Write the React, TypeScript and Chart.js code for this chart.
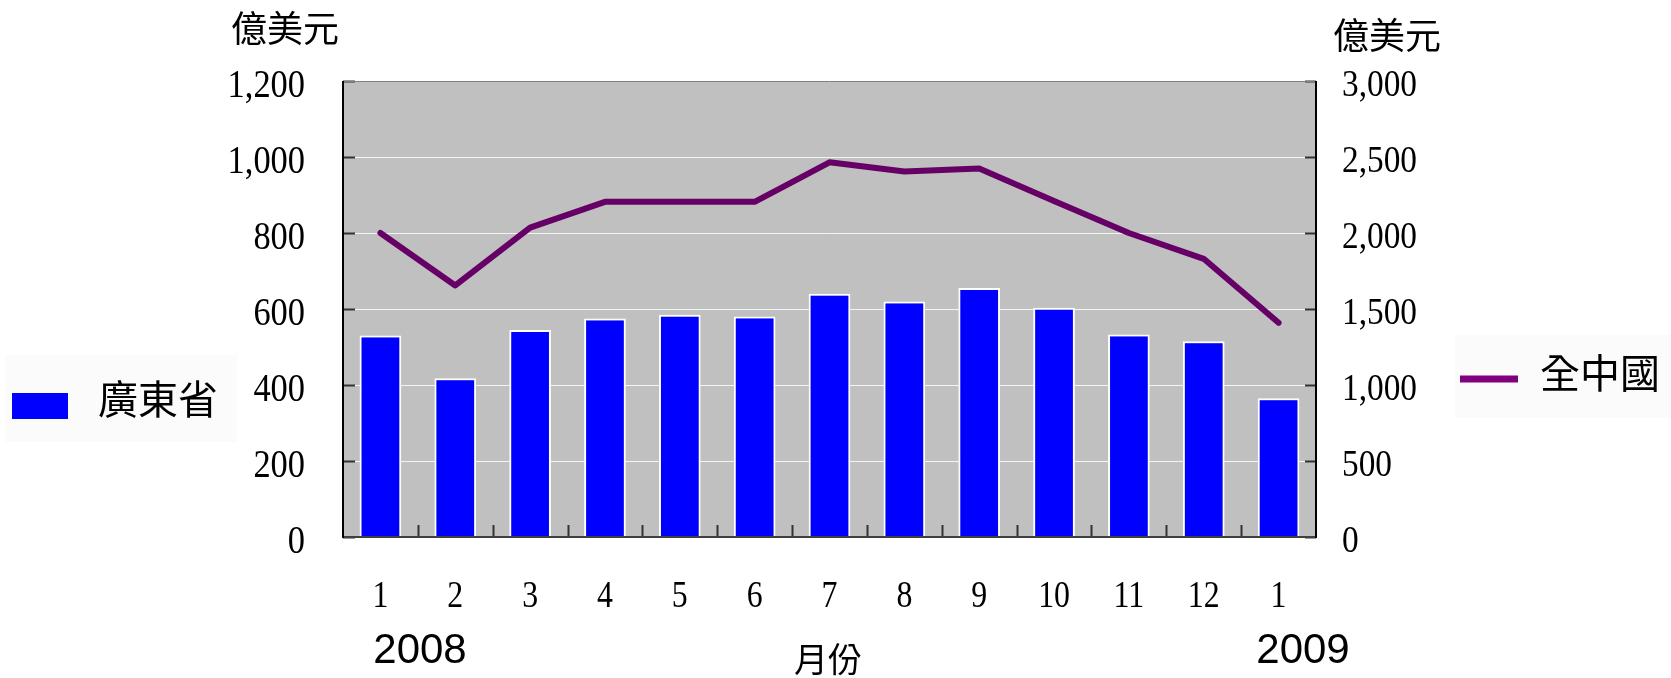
import React, { useEffect, useRef } from "react";
import { Chart, registerables } from "chart.js";

Chart.register(...registerables);

// Monthly export figures, Jan 2008 – Jan 2009 (億美元)
const monthLabels = ["1", "2", "3", "4", "5", "6", "7", "8", "9", "10", "11", "12", "1"];
const guangdongValues = [530, 418, 545, 575, 585, 580, 640, 620, 655, 603, 533, 515, 365];
const chinaValues = [2000, 1655, 2035, 2205, 2205, 2205, 2465, 2405, 2425, 2210, 2000, 1830, 1410];

const leftAxisTicks = [0, 200, 400, 600, 800, 1000, 1200];
const rightAxisTicks = [0, 500, 1000, 1500, 2000, 2500, 3000];
const yearLabels = ["2008", "2009"];

const SERIF = "'Liberation Serif', 'Times New Roman', serif";
const SANS = "'Liberation Sans', Arial, sans-serif";
const CJK = "'Noto Sans CJK TC', 'Noto Sans CJK SC', sans-serif";

function fmt(v: number): string {
  return v.toLocaleString("en-US");
}

// Draws text squeezed horizontally, like a condensed serif face
function squeezed(
  ctx: CanvasRenderingContext2D,
  text: string,
  x: number,
  y: number,
  font: string,
  align: CanvasTextAlign,
  sx: number
) {
  ctx.save();
  ctx.translate(x, y);
  ctx.scale(sx, 1);
  ctx.font = font;
  ctx.fillStyle = "#000000";
  ctx.textAlign = align;
  ctx.textBaseline = "alphabetic";
  ctx.fillText(text, 0, 0);
  ctx.restore();
}

function plainText(
  ctx: CanvasRenderingContext2D,
  text: string,
  x: number,
  y: number,
  font: string,
  align: CanvasTextAlign,
  baseline: CanvasTextBaseline
) {
  ctx.save();
  ctx.font = font;
  ctx.fillStyle = "#000000";
  ctx.textAlign = align;
  ctx.textBaseline = baseline;
  ctx.fillText(text, x, y);
  ctx.restore();
}

const framePlugin = {
  id: "frame",
  beforeDraw(chart: any) {
    const { ctx, chartArea } = chart;
    const { left, top, right, bottom } = chartArea;
    ctx.save();
    // faint legend panels
    ctx.fillStyle = "#fbfbfb";
    ctx.fillRect(5, 355, 232, 87);
    ctx.fillRect(1455, 335, 216, 83);
    // plot background
    ctx.fillStyle = "#c0c0c0";
    ctx.fillRect(left, top, right - left, bottom - top);
    ctx.restore();
  },
  afterDatasetsDraw(chart: any) {
    const { ctx, chartArea, scales } = chart;
    const { left, top, right, bottom } = chartArea;
    const x = scales.x;
    const y = scales.y;
    const y2 = scales.y2;
    ctx.save();
    // inner tick marks
    ctx.strokeStyle = "#333333";
    ctx.lineWidth = 2;
    ctx.beginPath();
    leftAxisTicks.forEach((v) => {
      const py = Math.round(y.getPixelForValue(v)) + 0.5;
      ctx.moveTo(left, py);
      ctx.lineTo(left + 12, py);
    });
    rightAxisTicks.forEach((v) => {
      const py = Math.round(y2.getPixelForValue(v)) + 0.5;
      ctx.moveTo(right - 11, py);
      ctx.lineTo(right, py);
    });
    for (let i = 1; i < monthLabels.length; i++) {
      const px = Math.round((x.getPixelForValue(i - 1) + x.getPixelForValue(i)) / 2) + 0.5;
      ctx.moveTo(px, bottom);
      ctx.lineTo(px, bottom - 12);
    }
    ctx.stroke();
    // frame
    ctx.strokeStyle = "#808080";
    ctx.lineWidth = 1;
    ctx.beginPath();
    ctx.moveTo(left, top + 0.5);
    ctx.lineTo(right, top + 0.5);
    ctx.stroke();
    ctx.strokeStyle = "#404040";
    ctx.lineWidth = 2;
    ctx.beginPath();
    ctx.moveTo(left, bottom);
    ctx.lineTo(right, bottom);
    ctx.stroke();
    ctx.strokeStyle = "#000000";
    ctx.beginPath();
    ctx.moveTo(left, top);
    ctx.lineTo(left, bottom + 1);
    ctx.moveTo(right, top);
    ctx.lineTo(right, bottom + 1);
    ctx.stroke();
    ctx.restore();
  },
  afterDraw(chart: any) {
    const { ctx, scales } = chart;
    const x = scales.x;
    const y = scales.y;
    const y2 = scales.y2;

    // axis tick labels
    leftAxisTicks.forEach((v) => {
      squeezed(ctx, fmt(v), 305, y.getPixelForValue(v) + 16, `40px ${SERIF}`, "right", 0.86);
    });
    rightAxisTicks.forEach((v) => {
      squeezed(ctx, fmt(v), 1342, y2.getPixelForValue(v) + 15, `37px ${SERIF}`, "left", 0.9);
    });
    monthLabels.forEach((m, i) => {
      squeezed(ctx, m, x.getPixelForValue(i), 607, `37px ${SERIF}`, "center", 0.86);
    });

    // years under the first and last month
    plainText(ctx, yearLabels[0], 420, 663, `42px ${SANS}`, "center", "alphabetic");
    plainText(ctx, yearLabels[1], 1303, 663, `42px ${SANS}`, "center", "alphabetic");

    // axis titles
    plainText(ctx, "月份", 828, 659, `34px ${CJK}`, "center", "middle");
    plainText(ctx, "億美元", 231, 28, `36px ${CJK}`, "left", "middle");
    plainText(ctx, "億美元", 1333, 35, `36px ${CJK}`, "left", "middle");

    // legends
    ctx.save();
    ctx.fillStyle = "#0000ff";
    ctx.fillRect(12, 393, 56, 26);
    ctx.strokeStyle = "#800080";
    ctx.lineWidth = 7;
    ctx.beginPath();
    ctx.moveTo(1460, 379);
    ctx.lineTo(1518, 379);
    ctx.stroke();
    ctx.restore();
    plainText(ctx, "廣東省", 98, 399, `40px ${CJK}`, "left", "middle");
    plainText(ctx, "全中國", 1540, 373, `40px ${CJK}`, "left", "middle");
  },
};

export default function App() {
  const canvasRef = useRef<HTMLCanvasElement | null>(null);

  useEffect(() => {
    const canvas = canvasRef.current;
    if (!canvas) return;
    const chart = new Chart(canvas, {
      type: "bar",
      data: {
        labels: monthLabels,
        datasets: [
          {
            type: "line",
            label: "全中國",
            data: chinaValues,
            yAxisID: "y2",
            borderColor: "#660066",
            backgroundColor: "#660066",
            borderWidth: 6,
            borderCapStyle: "round",
            borderJoinStyle: "round",
            pointRadius: 0,
            tension: 0,
            order: 0,
          } as any,
          {
            type: "bar",
            label: "廣東省",
            data: guangdongValues,
            yAxisID: "y",
            backgroundColor: "#0000ff",
            borderColor: "#ffffff",
            borderWidth: 2,
            borderSkipped: "bottom",
            barPercentage: 0.557,
            categoryPercentage: 1,
            order: 1,
          },
        ],
      },
      options: {
        responsive: false,
        animation: false,
        devicePixelRatio: 1,
        layout: { padding: { top: 81, left: 0, right: 0, bottom: 0 } },
        plugins: {
          legend: { display: false },
          tooltip: { enabled: false },
          title: { display: false },
        },
        scales: {
          x: {
            type: "category",
            offset: true,
            grid: { display: false },
            border: { display: false },
            ticks: { display: false },
            afterFit: (s: any) => {
              s.height = 141;
            },
          },
          y: {
            position: "left",
            min: 0,
            max: 1200,
            ticks: { display: false, stepSize: 200 },
            grid: { color: "#f4f4f4", lineWidth: 1, drawTicks: false },
            border: { display: false },
            afterFit: (s: any) => {
              s.width = 343;
            },
          },
          y2: {
            position: "right",
            min: 0,
            max: 3000,
            ticks: { display: false, stepSize: 500 },
            grid: { display: false },
            border: { display: false },
            afterFit: (s: any) => {
              s.width = 355;
            },
          },
        },
      } as any,
      plugins: [framePlugin],
    });
    return () => chart.destroy();
  }, []);

  return (
    <div style={{ position: "absolute", left: 0, top: 0, width: 1671, height: 678, background: "#ffffff" }}>
      <canvas ref={canvasRef} width={1671} height={678} style={{ display: "block", width: 1671, height: 678 }} />
    </div>
  );
}
